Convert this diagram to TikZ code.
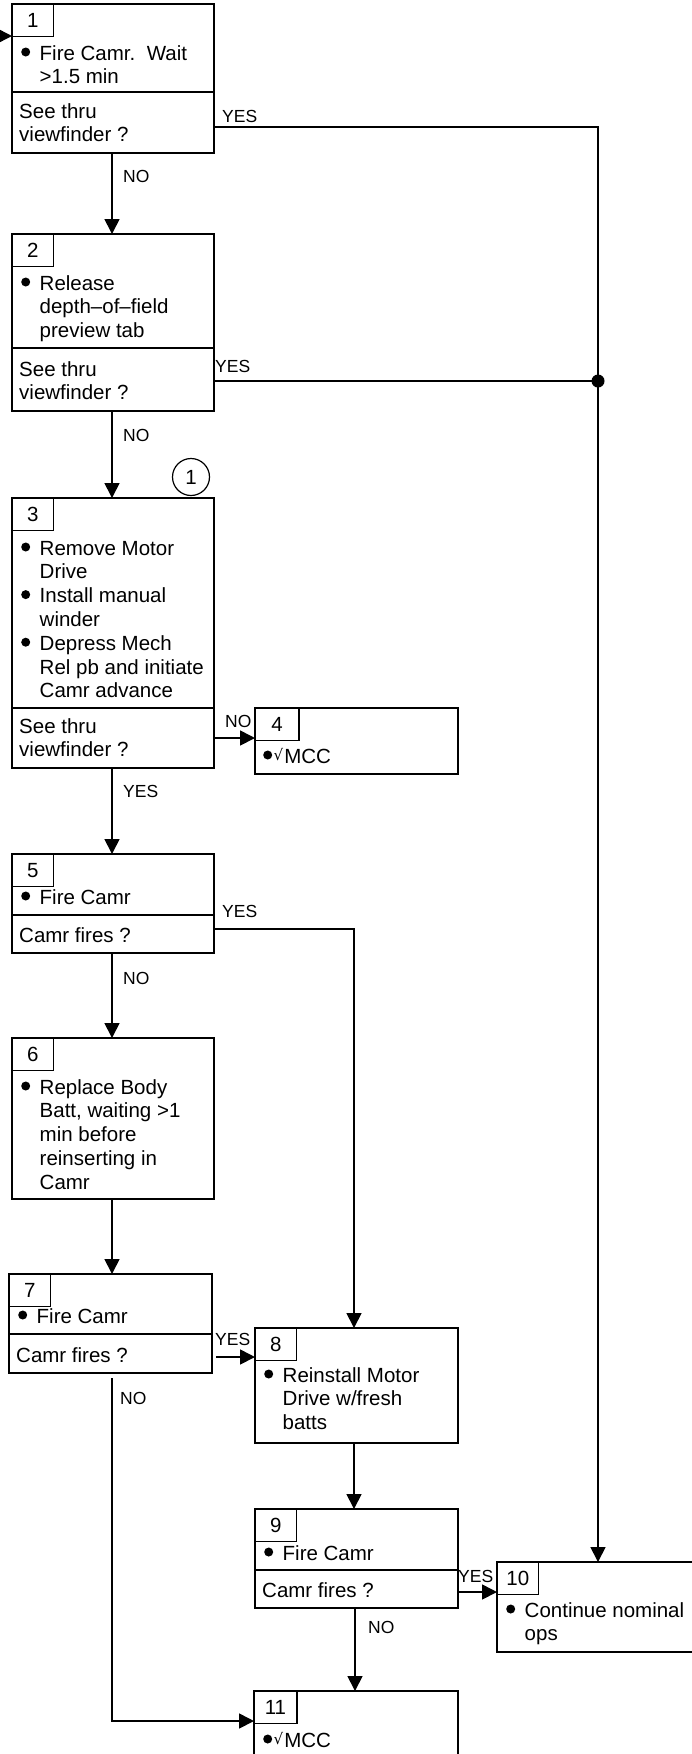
\documentclass[tikz,border=0pt]{standalone}
\usepackage{fontspec}
\setmainfont{Liberation Sans}
\newfontfamily\djv{DejaVu Sans}
\usetikzlibrary{arrows.meta}
\newcommand{\mf}{\fontsize{20.5pt}{23.8pt}\selectfont}
\newcommand{\lf}{\fontsize{17.5pt}{20pt}\selectfont}
\newcommand{\bdot}{\tikz[baseline=0pt,x=1pt,y=1pt]\fill (0,8) circle (4.5pt);}
\newcommand{\bul}{\makebox[18.5pt][l]{\bdot}}
\newcommand{\bcon}{\hspace*{18.5pt}}
\newcommand{\chk}{\raisebox{3pt}{\djv\fontsize{15pt}{15pt}\selectfont √}}
\newcommand{\tblock}[1]{\parbox[t]{220pt}{\mf\raggedright #1}}
\tikzset{
  ln/.style={line width=1.7pt},
  box/.style={draw, line width=1.7pt, rectangle, inner sep=0pt, outer sep=0pt},
  numbox/.style={draw, line width=1.5pt, rectangle, inner sep=0pt, outer sep=0pt,
    minimum width=41.5pt, minimum height=32.5pt, font=\mf},
  txt/.style={anchor=base west, inner sep=0pt},
  lbl/.style={anchor=base west, inner sep=0pt, font=\lf},
  arr/.style={line width=1.7pt, -{Triangle[length=15pt,width=15pt]}},
}
\begin{document}
\begin{tikzpicture}[x=1pt,y=-1pt]
\useasboundingbox (0,0) rectangle (691,1754);

% ---- boxes ----
\node[box, anchor=north west, minimum width=202pt, minimum height=149pt] (b1) at (12,4) {};
\node[box, anchor=north west, minimum width=202pt, minimum height=177pt] (b2) at (12,234) {};
\node[box, anchor=north west, minimum width=202pt, minimum height=270pt] (b3) at (12,498) {};
\node[box, anchor=north west, minimum width=203pt, minimum height=66pt] (b4) at (255,708) {};
\node[box, anchor=north west, minimum width=202pt, minimum height=99pt] (b5) at (12,854) {};
\node[box, anchor=north west, minimum width=202pt, minimum height=161pt] (b6) at (12,1038) {};
\node[box, anchor=north west, minimum width=203pt, minimum height=99pt] (b7) at (9,1274) {};
\node[box, anchor=north west, minimum width=203pt, minimum height=115pt] (b8) at (255,1328) {};
\node[box, anchor=north west, minimum width=203pt, minimum height=99pt] (b9) at (255,1509) {};
\node[box, anchor=north west, minimum width=240pt, minimum height=90pt] (b10) at (497,1562) {};
\node[box, anchor=north west, minimum width=204pt, minimum height=90pt] (b11) at (254,1691) {};

% ---- dividers ----
\draw[ln] (b1.west |- 0,92) -- (b1.east |- 0,92);
\draw[ln] (b2.west |- 0,348) -- (b2.east |- 0,348);
\draw[ln] (b3.west |- 0,708) -- (b3.east |- 0,708);
\draw[ln] (b5.west |- 0,915) -- (b5.east |- 0,915);
\draw[ln] (b7.west |- 0,1334) -- (b7.east |- 0,1334);
\draw[ln] (b9.west |- 0,1570) -- (b9.east |- 0,1570);

% ---- number boxes ----
\node[numbox, anchor=north west] (n1) at (b1.north west) {1};
\node[numbox, anchor=north west] (n2) at (b2.north west) {2};
\node[numbox, anchor=north west] (n3) at (b3.north west) {3};
\node[numbox, anchor=north west, minimum width=44pt] (n4) at (b4.north west) {4};
\node[numbox, anchor=north west] (n5) at (b5.north west) {5};
\node[numbox, anchor=north west] (n6) at (b6.north west) {6};
\node[numbox, anchor=north west] (n7) at (b7.north west) {7};
\node[numbox, anchor=north west] (n8) at (b8.north west) {8};
\node[numbox, anchor=north west] (n9) at (b9.north west) {9};
\node[numbox, anchor=north west] (n10) at (b10.north west) {10};
\node[numbox, anchor=north west, minimum width=43pt] (n11) at (b11.north west) {11};

% ---- circle note ----
\node[draw, circle, line width=1.2pt, minimum size=37pt, inner sep=0pt, font=\mf] (c1) at (191,477) {1};

% ---- texts ----
\node[txt] (t1) at (21,60) {\tblock{\bul Fire Camr.\ \ Wait\\\bcon >1.5 min}};
\node[txt] (q1) at (19,118) {\tblock{See thru\\viewfinder ?}};
\node[txt] (t2) at (21,290) {\tblock{\bul Release\\\bcon depth–of–field\\\bcon preview tab}};
\node[txt] (q2) at (19,376) {\tblock{See thru\\viewfinder ?}};
\node[txt] (t3) at (21,555) {\tblock{\bul Remove Motor\\\bcon Drive\\\bul Install manual\\\bcon winder\\\bul Depress Mech\\\bcon Rel pb and initiate\\\bcon Camr advance}};
\node[txt] (q3) at (19,733) {\tblock{See thru\\viewfinder ?}};
\node[txt] (t4) at (263,763) {\tblock{\bdot\hspace{1.5pt}\chk\hspace{1pt}MCC}};
\node[txt] (t5) at (21,904) {\tblock{\bul Fire Camr}};
\node[txt] (q5) at (19,942) {\tblock{Camr fires ?}};
\node[txt] (t6) at (21,1094) {\tblock{\bul Replace Body\\\bcon Batt, waiting >1\\\bcon min before\\\bcon reinserting in\\\bcon Camr}};
\node[txt] (t7) at (18,1323) {\tblock{\bul Fire Camr}};
\node[txt] (q7) at (16,1362) {\tblock{Camr fires ?}};
\node[txt] (t8) at (264,1382) {\tblock{\bul Reinstall Motor\\\bcon Drive w/fresh\\\bcon batts}};
\node[txt] (t9) at (264,1560) {\tblock{\bul Fire Camr}};
\node[txt] (q9) at (262,1597) {\tblock{Camr fires ?}};
\node[txt] (t10) at (506,1617) {\tblock{\bul Continue nominal\\\bcon ops}};
\node[txt] (t11) at (263,1747) {\tblock{\bdot\hspace{1.5pt}\chk\hspace{1pt}MCC}};

% ---- connectors ----
\coordinate (s0) at (0,36);
\coordinate (rj) at (598,381);
\draw[arr] (s0) -- (s0 -| b1.west);
\draw[arr] (b1.east |- 0,127) -| (rj |- b10.north);
\draw[ln] (b2.east |- rj) -- (rj);
\fill (rj) circle (6.5pt);
\draw[arr] (b1.south -| 112,0) -- (b2.north -| 112,0);
\draw[arr] (b2.south -| 112,0) -- (b3.north -| 112,0);
\draw[arr] (b3.east |- 0,738) -- (b4.west |- 0,738);
\draw[arr] (b3.south -| 112,0) -- (b5.north -| 112,0);
\draw[arr] (b5.east |- 0,929) -| (b8.north -| 354,0);
\draw[arr] (b5.south -| 112,0) -- (b6.north -| 112,0);
\draw[arr] (b6.south -| 112,0) -- (b7.north -| 112,0);
\draw[arr, shorten <=4pt] (b7.east |- 0,1357) -- (b8.west |- 0,1357);
\draw[arr, shorten <=5pt] (b7.south -| 112,0) |- (b11.west |- 0,1721);
\draw[arr] (b8.south -| 354,0) -- (b9.north -| 354,0);
\draw[arr] (b9.east |- 0,1592) -- (b10.west |- 0,1592);
\draw[arr] (b9.south -| 355,0) -- (b11.north -| 355,0);

% ---- labels ----
\node[lbl] (l1y) at (222,122) {YES};
\node[lbl] (l1n) at (123,182) {NO};
\node[lbl] (l2y) at (215,372) {YES};
\node[lbl] (l2n) at (123,441) {NO};
\node[lbl] (l3n) at (225,727) {NO};
\node[lbl] (l3y) at (123,797) {YES};
\node[lbl] (l5y) at (222,917) {YES};
\node[lbl] (l5n) at (123,984) {NO};
\node[lbl] (l7y) at (215,1345) {YES};
\node[lbl] (l7n) at (120,1404) {NO};
\node[lbl] (l9y) at (458,1582) {YES};
\node[lbl] (l9n) at (368,1633) {NO};
\end{tikzpicture}
\end{document}
